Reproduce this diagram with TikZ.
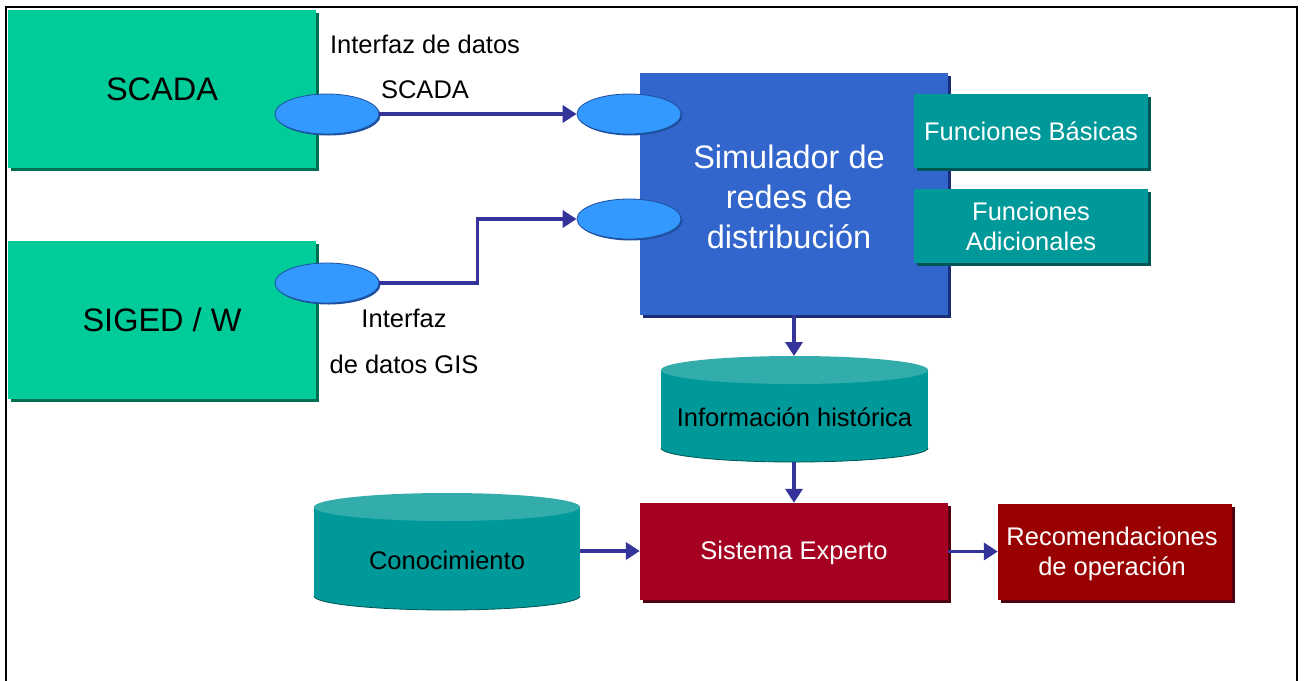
\documentclass[tikz,border=0pt]{standalone}
\usepackage{fontspec}
\setmainfont{Liberation Sans}
\usetikzlibrary{arrows.meta,shadows,shapes.geometric}
\definecolor{scgreen}{RGB}{0,204,153}
\definecolor{scgreendk}{RGB}{0,110,80}
\definecolor{simblue}{RGB}{51,102,204}
\definecolor{simbluedk}{RGB}{25,45,120}
\definecolor{ellblue}{RGB}{51,153,255}
\definecolor{ellbluedk}{RGB}{30,80,160}
\definecolor{tealc}{RGB}{0,153,153}
\definecolor{tealdk}{RGB}{0,85,85}
\definecolor{teallt}{RGB}{51,172,172}
\definecolor{exred}{RGB}{165,0,33}
\definecolor{exreddk}{RGB}{80,0,15}
\definecolor{recred}{RGB}{153,0,0}
\definecolor{arrowblue}{RGB}{51,51,153}
\tikzset{
  smallfont/.style={font=\fontsize{25.5}{30}\selectfont},
  bigfont/.style={font=\fontsize{32.5}{40}\selectfont},
  box/.style={rectangle, inner sep=0pt, align=center,
    general shadow={fill=#1, shadow xshift=3pt, shadow yshift=-3pt}},
  greenbox/.style={box=scgreendk, fill=scgreen, bigfont, text=black,
    minimum width=308pt, minimum height=158pt},
  simbox/.style={box=simbluedk, fill=simblue, bigfont, text=white,
    minimum width=308pt, minimum height=242pt},
  funcbox/.style={box=tealdk, fill=tealc, smallfont, text=white,
    minimum width=234pt, minimum height=74pt},
  expbox/.style={box=exreddk, fill=exred, smallfont, text=white,
    minimum width=308pt, minimum height=97pt},
  recbox/.style={box=exreddk, fill=recred, smallfont, text=white,
    minimum width=234pt, minimum height=96pt},
  iface/.style={ellipse, inner sep=0pt, fill=ellblue, draw=ellbluedk, line width=0.8pt,
    minimum width=104pt, minimum height=40pt,
    general shadow={fill=ellbluedk, shadow xshift=1.5pt, shadow yshift=-1.5pt}},
  lbl/.style={smallfont, text=black, inner sep=0pt},
  arr/.style={draw=arrowblue, line width=3.5pt, -{Triangle[length=14pt,width=17pt]}},
  cylbody/.style={fill=tealc},
  cyltop/.style={fill=teallt},
  cyledge/.style={draw=tealdk, line width=0.8pt}
}
\begin{document}
\begin{tikzpicture}[x=1pt,y=-1pt]
\useasboundingbox (0,0) rectangle (1305,680);
\fill[white] (0,0) rectangle (1305,680);
\draw[line width=2pt] (6,681) -- (6,7) -- (1297,7) -- (1297,681);

% left systems
\node[greenbox] (scada) at (162,89) {SCADA};
\node[greenbox] (siged) at (162,320) {SIGED / W};

% simulator
\node[simbox] (sim) at (794,194) {};
\node[bigfont, text=white, align=center, inner sep=0pt] (simtxt) at (789,197) {Simulador de\\redes de\\distribución};
\node[funcbox] (fb) at (1031,131) {Funciones Básicas};
\node[funcbox] (fa) at (1031,226) {Funciones\\Adicionales};

% interfaces
\node[iface] (e1) at (327,114) {};
\node[iface] (e2) at (327,283) {};
\node[iface] (e3) at (629,114) {};
\node[iface] (e4) at (629,219) {};

% labels
\node[lbl] (l1) at (425,44) {Interfaz de datos};
\node[lbl] (l2) at (425,90) {SCADA};
\node[lbl] (l3) at (404,318) {Interfaz};
\node[lbl] (l4) at (404,364) {de datos GIS};

% connectors interfaces
\draw[arr] (e1.east) -- (e3.west);
\draw[arr] (e2.east) -- ++(98,0) |- (e4.west);

% historical cylinder
\fill[cylbody] (661,370) rectangle (928,448);
\fill[cylbody] (794.5,448) ellipse [x radius=133.5pt, y radius=14pt];
\draw[cyledge] (661,448) arc[start angle=180, end angle=360, x radius=133.5pt, y radius=14pt];
\fill[cyltop] (794.5,370) ellipse [x radius=133.5pt, y radius=14pt];
\node[lbl] (hist) at (794.5,417) {Información histórica};
\coordinate (histtop) at (794,356);
\coordinate (histbot) at (794,462);

% knowledge cylinder
\fill[cylbody] (314,507) rectangle (580,596);
\fill[cylbody] (447,596) ellipse [x radius=133pt, y radius=14pt];
\draw[cyledge] (314,596) arc[start angle=180, end angle=360, x radius=133pt, y radius=14pt];
\fill[cyltop] (447,507) ellipse [x radius=133pt, y radius=14pt];
\node[lbl] (con) at (447,560) {Conocimiento};
\coordinate (conE) at (580,551);

% expert system
\node[expbox] (se) at (794,551.5) {};
\node[smallfont, text=white, inner sep=0pt] (setxt) at (794,553) {Sistema Experto};
\node[recbox] (rec) at (1115,551.5) {};
\node[smallfont, text=white, align=center, inner sep=0pt] (rectxt) at (1112,554) {Recomendaciones\\de operación};

\draw[arr] (sim.south) -- (histtop);
\draw[arr] (histbot) -- (se.north);
\draw[arr] (conE) -- (se.west |- conE);
\draw[arr] (se.east) -- (rec.west);
\end{tikzpicture}
\end{document}
